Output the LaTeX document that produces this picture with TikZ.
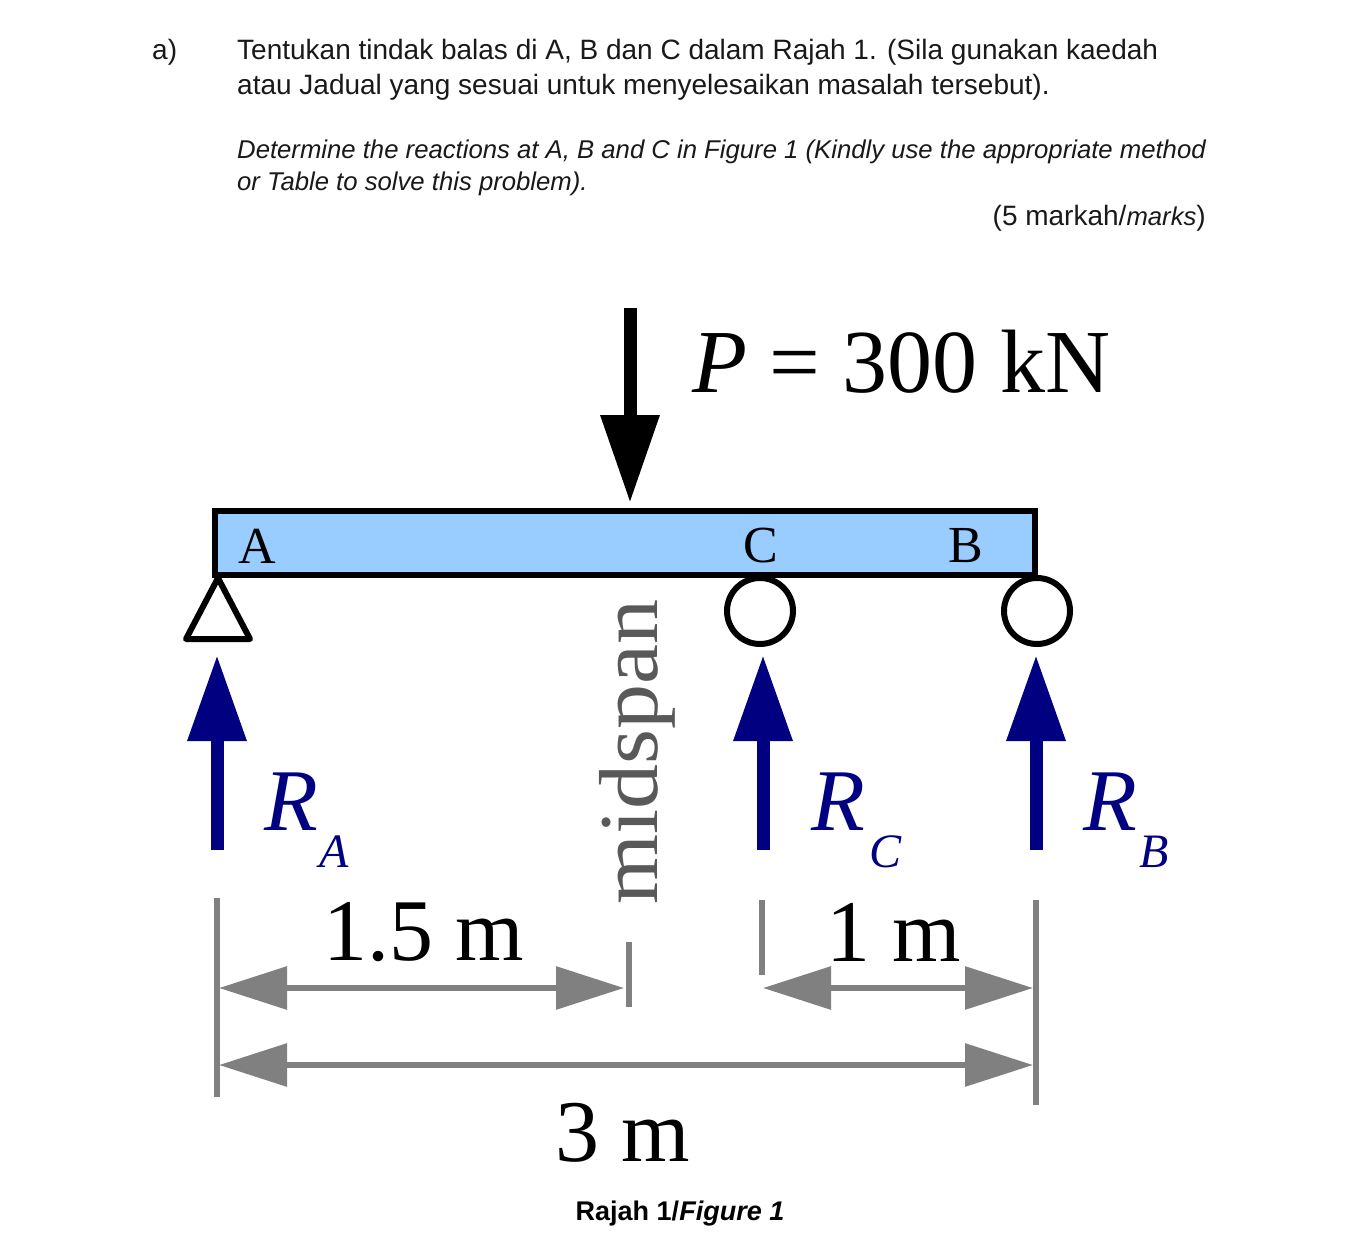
\documentclass[tikz,border=0pt]{standalone}
\usepackage{fontspec}
\setmainfont{Liberation Serif}
\newfontfamily\arialf{Liberation Sans}
\usetikzlibrary{arrows.meta}
\definecolor{beam}{HTML}{99CCFF}
\definecolor{navyc}{HTML}{000080}
\definecolor{dimc}{HTML}{808080}
\tikzset{
 x=1pt,y=-1pt,
 head/.style={font=\arialf\fontsize{28}{28}\selectfont,anchor=west,inner sep=0,text=black!90},
 headi/.style={font=\arialf\itshape\fontsize{25.7}{25.7}\selectfont,anchor=west,inner sep=0,text=black!90},
 letter/.style={font=\fontsize{52}{52}\selectfont,inner sep=0},
 big/.style={font=\fontsize{88}{88}\selectfont,inner sep=0},
 rlabel/.style={font=\itshape\fontsize{88}{88}\selectfont,text=navyc,inner sep=0},
 rsub/.style={font=\itshape\fontsize{48}{48}\selectfont,text=navyc,inner sep=0},
 dimline/.style={draw=dimc,line width=6pt},
 dimarrow/.style={draw=dimc,line width=6pt,{Triangle[length=68pt,width=42pt,fill=dimc]}-{Triangle[length=68pt,width=42pt,fill=dimc]},shorten >=0pt,shorten <=0pt},
 react/.style={draw=navyc,line width=13pt,-{Triangle[length=86pt,width=56pt,fill=navyc]}},
 support/.style={draw=black,line width=6pt,fill=white},
}
\begin{document}
\begin{tikzpicture}
\useasboundingbox (0,0) rectangle (1368,1260);
\fill[white] (0,0) rectangle (1368,1260);
% header text
\node[head] (qa) at (152,52) {a)};
\node[head] (t1) at (237,52) {Tentukan tindak balas di A, B dan C dalam Rajah 1. (Sila gunakan kaedah};
\node[head] (t2) at (237,87) {atau Jadual yang sesuai untuk menyelesaikan masalah tersebut).};
\node[headi] (t3) at (237,152) {Determine the reactions at A, B and C in Figure 1 (Kindly use the appropriate method};
\node[headi] (t4) at (237,184) {or Table to solve this problem).};
\node[head,anchor=east] (t5) at (1206,218) {(5 markah/{\itshape\fontsize{25.7}{25.7}\selectfont marks})};
% supports
\draw[support,line join=round] (218,578) -- (250,639) -- (186,639) -- cycle;
\draw[support] (760,611) circle (33);
\draw[support] (1037,611) circle (33);
% beam
\draw[black,line width=6pt,fill=beam] (215,511) rectangle (1035,575);
\node[letter] (A) at (257,546) {A};
\node[letter] (C) at (761,546) {C};
\node[letter] (B) at (966,546) {B};
% load
\coordinate (p0) at (630,308);
\coordinate (p1) at (630,503);
\draw[black,line width=13pt,-{Triangle[length=88pt,width=56pt,fill=black]}] (p0) -- (p1);
\node[font=\fontsize{90}{90}\selectfont,inner sep=0,anchor=west] (P) at (692,362) {{\itshape P} = 300 kN};
% reactions
\coordinate (ra0) at (217,850); \coordinate (ra1) at (217,655);
\coordinate (rc0) at (763,850); \coordinate (rc1) at (763,655);
\coordinate (rb0) at (1036,850); \coordinate (rb1) at (1036,655);
\draw[react] (ra0) -- (ra1);
\draw[react] (rc0) -- (rc1);
\draw[react] (rb0) -- (rb1);
\node[rlabel] (RA) at (291,802) {R};
\node[rsub] (RAs) at (334,852) {A};
\node[rlabel] (RC) at (838,802) {R};
\node[rsub] (RCs) at (885,852) {C};
\node[rlabel] (RB) at (1110,802) {R};
\node[rsub] (RBs) at (1154,852) {B};
% midspan
\node[font=\fontsize{90}{90}\selectfont,rotate=90,text=black!65,inner sep=0] (mid) at (637,752) {\scalebox{1}[0.93]{midspan}};
% dimensions
\coordinate (d1a) at (217,898); \coordinate (d1b) at (217,1097);
\coordinate (d2a) at (629,942); \coordinate (d2b) at (629,1007);
\coordinate (d3a) at (762,900); \coordinate (d3b) at (762,975);
\coordinate (d4a) at (1036,900); \coordinate (d4b) at (1036,1105);
\draw[dimline] (d1a) -- (d1b);
\draw[dimline] (d2a) -- (d2b);
\draw[dimline] (d3a) -- (d3b);
\draw[dimline] (d4a) -- (d4b);
\coordinate (a1) at (219,988); \coordinate (a2) at (624,988);
\coordinate (a3) at (763,988); \coordinate (a4) at (1033,988);
\coordinate (a5) at (219,1065); \coordinate (a6) at (1033,1065);
\draw[dimarrow] (a1) -- (a2);
\draw[dimarrow] (a3) -- (a4);
\draw[dimarrow] (a5) -- (a6);
\node[big] (l1) at (424,932) {1.5 m};
\node[big] (l2) at (894,932) {1 m};
\node[big] (l3) at (623,1133) {3 m};
\node[font=\arialf\bfseries\fontsize{27}{27}\selectfont,inner sep=0] (cap) at (680,1214) {Rajah 1/{\itshape Figure 1}};
\end{tikzpicture}
\end{document}
